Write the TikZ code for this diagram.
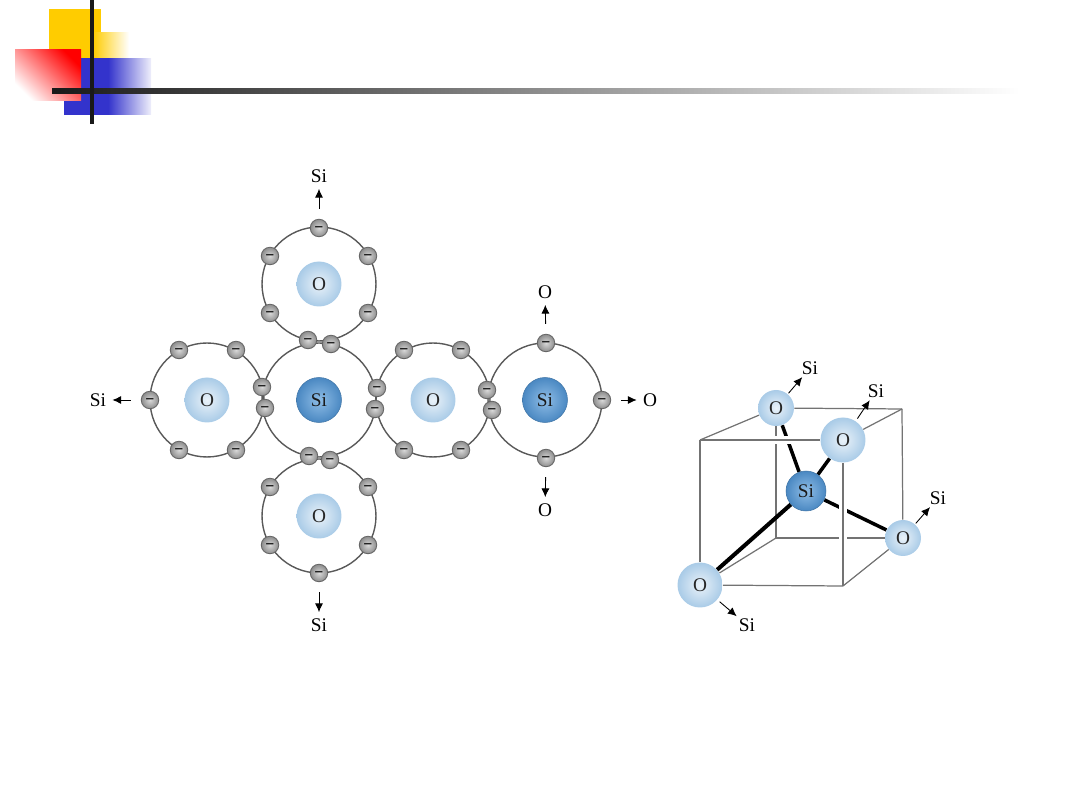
\documentclass[tikz,border=0pt]{standalone}
\usepackage{fontspec}
\setmainfont{Liberation Serif}
\usetikzlibrary{backgrounds,arrows.meta}

\definecolor{decoyellow}{HTML}{FFCC00}
\definecolor{decoblue}{HTML}{3333CC}
\definecolor{oxyin}{HTML}{EAF2F9}
\definecolor{oxyout}{HTML}{A9CBE7}
\definecolor{siin}{HTML}{8FBDE6}
\definecolor{siout}{HTML}{4A88C2}

\tikzset{
    orbit/.style={draw=black!65, line width=0.8pt, circle, minimum size=2.28cm},
    electron/.style={
        draw=black!60, line width=0.5pt, circle, inner sep=0pt, minimum size=0.35cm,
        inner color=black!15, outer color=black!45, font=\small\bfseries,
        text height=5pt, text depth=0pt
    },
    oxygen/.style={
        circle, inner sep=0pt, minimum size=0.9cm,
        inner color=oxyin, outer color=oxyout,
        text=black!85, font=\fontsize{11}{12}\selectfont
    },
    silicon/.style={
        circle, inner sep=0pt, minimum size=0.9cm,
        inner color=siin, outer color=siout,
        draw=siout!85!black, line width=0.3pt,
        text=black!90, font=\fontsize{11}{12}\selectfont
    },
    tag/.style={inner sep=0pt, font=\fontsize{11}{12}\selectfont},
    bondarrow/.style={
        -{Latex[length=5pt,width=4.6pt]}, line width=0.5pt,
        shorten <=0.2cm, shorten >=0.12cm
    },
    edge/.style={draw=black!55, line width=0.7pt},
    frontedge/.style={edge, preaction={draw=white, line width=4.5pt}},
    bond/.style={line width=2pt}
}

\begin{document}
\begin{tikzpicture}[x=0.02cm, y=-0.02cm]
    \useasboundingbox (0,0) rectangle (1080,810);

    % corner decoration
    \fill[decoyellow] (49,9) rectangle (101,58);
    \fill[left color=decoyellow, right color=white] (93,33) rectangle (129,60);
    \fill[decoblue] (64,58) rectangle (114,115);
    \fill[left color=decoblue, right color=decoblue!8] (108,59) rectangle (151,115);
    \fill[bottom color=white, top color=red, shading angle=-45] (15,50) rectangle (81,101);
    \fill[left color=black!90, right color=white] (52,88.5) rectangle (1020,93.5);
    \fill[black!90] (90,0) rectangle (94,124);

    % electron shells
    \node[orbit, name=shellA] at (319,400) {};
    \node[orbit, name=shellB] at (207,400) {};
    \node[orbit, name=shellC] at (433,400) {};
    \node[orbit, name=shellD] at (545,400) {};
    \node[orbit, name=shellE] at (319,284) {};
    \node[orbit, name=shellF] at (319,516) {};

    % atom cores
    \node[silicon, name=coreA] at (319,400) {Si};
    \node[oxygen, name=coreB] at (207,400) {O};
    \node[oxygen, name=coreC] at (433,400) {O};
    \node[silicon, name=coreD] at (545,400) {Si};
    \node[oxygen, name=coreE] at (319,284) {O};
    \node[oxygen, name=coreF] at (319,516) {O};

    % upper oxygen
    \node[electron, name=e1] at (319,228) {−};
    \node[electron] at (270,256) {−};
    \node[electron] at (368,256) {−};
    \node[electron] at (270,313) {−};
    \node[electron] at (368,313) {−};
    \node[electron] at (308,340) {−};
    \node[electron] at (331,344) {−};

    % left oxygen
    \node[electron, name=e2] at (150,400) {−};
    \node[electron] at (179,350) {−};
    \node[electron] at (236,350) {−};
    \node[electron] at (179,450) {−};
    \node[electron] at (236,450) {−};
    \node[electron] at (262,387) {−};
    \node[electron] at (265,408) {−};

    % right oxygen
    \node[electron] at (377,388) {−};
    \node[electron] at (375,409) {−};
    \node[electron] at (404,350) {−};
    \node[electron] at (461,350) {−};
    \node[electron] at (404,450) {−};
    \node[electron] at (461,450) {−};
    \node[electron] at (487,390) {−};
    \node[electron] at (492,410) {−};

    % right silicon
    \node[electron, name=e3] at (546,343) {−};
    \node[electron, name=e4] at (602,400) {−};
    \node[electron, name=e5] at (546,458) {−};

    % lower oxygen
    \node[electron] at (309,456) {−};
    \node[electron] at (330,460) {−};
    \node[electron] at (270,487) {−};
    \node[electron] at (368,487) {−};
    \node[electron] at (270,545) {−};
    \node[electron] at (368,545) {−};
    \node[electron, name=e6] at (319,573) {−};

    % neighbours of the planar layout
    \node[tag, name=t1] at (319,176) {Si};
    \node[tag, name=t2] at (98,400) {Si};
    \node[tag, name=t3] at (545,292) {O};
    \node[tag, name=t4] at (650,400) {O};
    \node[tag, name=t5] at (545,510) {O};
    \node[tag, name=t6] at (319,625) {Si};

    \draw[bondarrow] (e1) -- (t1);
    \draw[bondarrow] (e2) -- (t2);
    \draw[bondarrow] (e3) -- (t3);
    \draw[bondarrow] (e4) -- (t4);
    \draw[bondarrow] (e5) -- (t5);
    \draw[bondarrow] (e6) -- (t6);

    % tetrahedron in its cube
    \node[oxygen, minimum size=0.72cm, name=oBack] at (776,408) {O};
    \node[oxygen, minimum size=0.9cm, name=oTop] at (843,440) {O};
    \node[silicon, minimum size=0.8cm, name=siMid] at (806,491) {Si};
    \node[oxygen, minimum size=0.72cm, name=oRight] at (903,538) {O};
    \node[oxygen, minimum size=0.9cm, name=oFront] at (700,585) {O};

    \coordinate (c1) at (700,440);
    \coordinate (c2) at (843,586);
    \coordinate (c3) at (902,409);
    \coordinate (c4) at (776,538);

    \begin{scope}[on background layer]
        \draw[edge] (oBack) -- (c3);
        \draw[edge] (c3) -- (oTop);
        \draw[edge] (c3) -- (oRight);
        \draw[edge] (oBack) -- (c4);
        \draw[edge] (c4) -- (oRight);
        \draw[edge] (c4) -- (oFront);
        \draw[bond] (oBack) -- (siMid);
        \draw[bond] (oTop) -- (siMid);
        \draw[bond] (oRight) -- (siMid);
        \draw[bond, line width=2.3pt] (oFront) -- (siMid);
        \draw[frontedge] (c1) -- (oTop);
        \draw[frontedge] (oTop) -- (c2);
        \draw[edge] (c1) -- (oBack);
        \draw[edge] (c1) -- (oFront);
        \draw[edge] (oFront) -- (c2);
        \draw[edge] (c2) -- (oRight);
    \end{scope}

    \node[tag, name=s1] at (810,368) {Si};
    \node[tag, name=s2] at (876,391) {Si};
    \node[tag, name=s3] at (938,498) {Si};
    \node[tag, name=s4] at (747,625) {Si};

    \draw[bondarrow, shorten <=0.02cm, shorten >=0.06cm] (oBack) -- (s1);
    \draw[bondarrow, shorten <=0.06cm, shorten >=0.06cm] (oTop) -- (s2);
    \draw[bondarrow, shorten <=0.02cm, shorten >=0.06cm] (oRight) -- (s3);
    \draw[bondarrow, shorten <=0.06cm, shorten >=0.06cm] (oFront) -- (s4);
\end{tikzpicture}
\end{document}
